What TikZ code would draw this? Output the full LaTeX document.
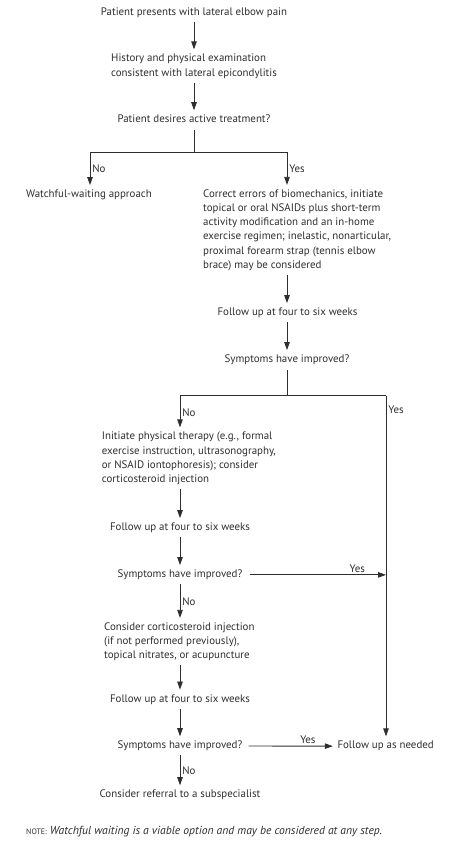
\documentclass[tikz,border=0pt]{standalone}
\usepackage{fontspec}
\setmainfont{PT Sans}
\usetikzlibrary{arrows.meta}
\definecolor{ink}{HTML}{2E2E2E}

\begin{document}
\begin{tikzpicture}[x=1pt,y=-1pt,
  txt/.style={inner sep=0pt, text=ink, text depth=2.5pt, font=\fontsize{10.9}{14.2}\selectfont},
  blk/.style={txt, align=left, anchor=north west},
  lbl/.style={inner sep=2pt, text=ink, font=\fontsize{10.9}{14.2}\selectfont},
  flow/.style={draw=ink, line width=0.8pt, -{Triangle[length=8pt,width=5.5pt]}, shorten <=4pt, shorten >=4.5pt},
  drop/.style={flow, shorten <=0pt},
  link/.style={draw=ink, line width=0.8pt}]
\useasboundingbox (0,0) rectangle (450,847);

% boxes of text
\node[txt, anchor=base] (start) at (194,15) {Patient presents with lateral elbow pain};
\node[blk] (hist) at (111,53.9) {History and physical examination\\consistent with lateral epicondylitis};
\node[txt, anchor=base] (ask) at (194,122.7) {Patient desires active treatment?};
\node[txt, anchor=base west] (wait) at (26,197.5) {Watchful-waiting approach};
\node[blk] (correct) at (203,189.4) {Correct errors of biomechanics, initiate\\topical or oral NSAIDs plus short-term\\activity modification and an in-home\\exercise regimen; inelastic, nonarticular,\\proximal forearm strap (tennis elbow\\brace) may be considered};
\node[txt, anchor=base] (fu1) at (287.5,315.5) {Follow up at four to six weeks};
\node[txt, anchor=base] (sym1) at (287,362.5) {Symptoms have improved?};
\node[blk] (therapy) at (101.7,431.9) {Initiate physical therapy (e.g., formal\\exercise instruction, ultrasonography,\\or NSAID iontophoresis); consider\\corticosteroid injection};
\node[txt, anchor=base] (fu2) at (180,530.5) {Follow up at four to six weeks};
\node[txt, anchor=base] (sym2) at (180,577.5) {Symptoms have improved?};
\node[blk] (inject) at (104,622.4) {Consider corticosteroid injection\\(if not performed previously),\\topical nitrates, or acupuncture};
\node[txt, anchor=base] (fu3) at (180,702) {Follow up at four to six weeks};
\node[txt, anchor=base] (sym3) at (180,748.7) {Symptoms have improved?};
\node[txt, anchor=base west] (needed) at (337.3,748.7) {Follow up as needed};
\node[txt, anchor=base] (refer) at (180,797.7) {Consider referral to a subspecialist};
\node[txt, anchor=base west] (note) at (26,834.5) {{\fontsize{7.9}{9}\selectfont NOTE:} {\fontsize{11.6}{14}\selectfont\itshape Watchful waiting is a viable option and may be considered at any step.}};

% junctions
\coordinate (b1) at (194,152);
\coordinate (b1l) at (90,152);
\coordinate (b1r) at (287,152);
\coordinate (b2) at (287,395.7);
\coordinate (b2l) at (180,395.7);
\coordinate (b2r) at (386,395.7);

% arrows
\draw[flow] (start.south) -- (start.south |- hist.north);
\draw[flow] (hist.south -| start.south) -- (ask.north);
\draw[link, shorten <=5pt] (ask.south) -- (b1);
\draw[link] (b1l) -- (b1r);
\draw[drop] (b1l) -- node[lbl, right, pos=0.45]{No} (b1l |- wait.north);
\draw[drop] (b1r) -- node[lbl, right, pos=0.45]{Yes} (b1r |- correct.north);
\draw[flow] (correct.south -| b1r) -- (fu1.north -| b1r);
\draw[flow] (fu1.south -| b1r) -- (sym1.north -| b1r);
\draw[link, shorten <=5pt] (sym1.south -| b2) -- (b2);
\draw[link] (b2l) -- (b2r);
\draw[drop] (b2l) -- node[lbl, right, pos=0.48]{No} (b2l |- therapy.north);
\draw[drop] (b2r) -- node[lbl, right, pos=0.042]{Yes} (b2r |- needed.north);
\draw[flow] (therapy.south -| b2l) -- (fu2.north);
\draw[flow] (fu2.south) -- (sym2.north);
\draw[flow, shorten <=7pt, shorten >=0pt] (sym2.east) -- node[lbl, above, pos=0.8]{Yes} (sym2.east -| b2r);
\draw[flow] (sym2.south) -- node[lbl, right]{No} (sym2.south |- inject.north);
\draw[flow] (inject.south -| sym2.south) -- (fu3.north);
\draw[flow] (fu3.south) -- (sym3.north);
\draw[flow, shorten <=6pt] (sym3.east) -- node[lbl, above, pos=0.69]{Yes} (needed.west);
\draw[flow] (sym3.south) -- node[lbl, right]{No} (refer.north);
\end{tikzpicture}
\end{document}
